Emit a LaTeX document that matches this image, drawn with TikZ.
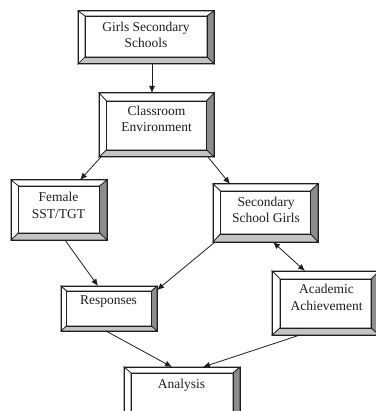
\documentclass[tikz,border=0pt]{standalone}
\usepackage{fontspec}
\setmainfont{Liberation Serif}
\usetikzlibrary{calc,arrows.meta}
\definecolor{bevdark}{RGB}{140,140,140}
\definecolor{bevlight}{RGB}{196,196,196}
\definecolor{inkc}{RGB}{30,30,30}
\tikzset{
  boxnode/.style={inner sep=0pt, outer sep=0pt, anchor=north west},
  bevline/.style={draw=inkc, line width=0.7pt},
  outline/.style={draw=inkc, line width=1pt},
  lbl/.style={font=\fontsize{13.5}{16.5}\selectfont, align=center, inner sep=0pt, text=inkc},
  conn/.style={draw=inkc, line width=0.8pt, -{Latex[length=7pt,width=6pt]}},
  bconn/.style={draw=inkc, line width=0.8pt, {Latex[length=7pt,width=6pt]}-{Latex[length=7pt,width=6pt]}}
}
\newcommand\bevbox[8]{% name, x1, y1, x2, y2, side, top, bottom
  \node[boxnode, minimum width=#4pt-#2pt, minimum height=#5pt-#3pt] (#1) at (#2,#3) {};
  \coordinate (#1-a) at ($(#1.north west)+(#6,#7)$);
  \coordinate (#1-b) at ($(#1.north east)+(-#6,#7)$);
  \coordinate (#1-c) at ($(#1.south east)+(-#6,-#8)$);
  \coordinate (#1-d) at ($(#1.south west)+(#6,-#8)$);
  \filldraw[bevline, fill=white] (#1.north west) -- (#1.north east) -- (#1-b) -- (#1-a) -- cycle;
  \filldraw[bevline, fill=white] (#1.north west) -- (#1.south west) -- (#1-d) -- (#1-a) -- cycle;
  \filldraw[bevline, fill=bevdark] (#1.north east) -- (#1.south east) -- (#1-c) -- (#1-b) -- cycle;
  \filldraw[bevline, fill=bevlight] (#1.south west) -- (#1.south east) -- (#1-c) -- (#1-d) -- cycle;
  \draw[bevline] (#1-a) rectangle (#1-c);
  \draw[outline] (#1.north west) rectangle (#1.south east);
}
\begin{document}
\begin{tikzpicture}[x=1pt, y=-1pt]
\useasboundingbox (0,0) rectangle (375,411);
\fill[white] (0,0) rectangle (375,411);

\bevbox{n1}{78}{11}{214}{64}{7}{5}{7}
\bevbox{n2}{99}{93}{214}{157}{7.5}{8}{7}
\bevbox{n3}{11}{180}{107}{240}{7.5}{6}{7}
\bevbox{n4}{213}{184}{318}{242}{7.5}{7}{8}
\bevbox{n5}{61}{286}{157}{331}{5.5}{5}{5}
\bevbox{n6}{272}{271}{379}{335}{8}{8}{7}
\bevbox{n7}{124}{367}{240}{425}{7}{6}{7}

\node[lbl] (t1) at (146,35) {Girls Secondary\\Schools};
\node[lbl] (t2) at (156.5,119) {Classroom\\Environment};
\node[lbl] (t3) at (58.5,205.5) {Female\\SST/TGT};
\node[lbl] (t4) at (266,210) {Secondary\\School Girls};
\node[lbl] (t5) at (108.5,302) {Responses};
\node[lbl] (t6) at (326.5,297.5) {Academic\\Achievement};
\node[lbl] (t7) at (181.5,385) {Analysis};

\draw[conn] ($(n1.south west)+(74,0)$) -- ($(n2.north west)+(53,0)$);
\draw[conn] ($(n2.south west)+(2,0)$) -- ($(n3.north west)+(69,0)$);
\draw[conn] ($(n2.south east)+(-6,0)$) -- ($(n4.north west)+(17,0)$);
\draw[conn] ($(n3.south west)+(54,0)$) -- ($(n5.north west)+(37,0)$);
\draw[conn] ($(n4.south west)+(2,0)$) -- ($(n5.north east)+(0,4)$);
\draw[bconn] ($(n4.south west)+(60,0)$) -- ($(n6.north west)+(33,0)$);
\draw[conn] ($(n5.south west)+(45,0)$) -- ($(n7.north west)+(48,0)$);
\draw[conn] ($(n6.south west)+(28,0)$) -- ($(n7.north west)+(79,0)$);
\end{tikzpicture}
\end{document}
